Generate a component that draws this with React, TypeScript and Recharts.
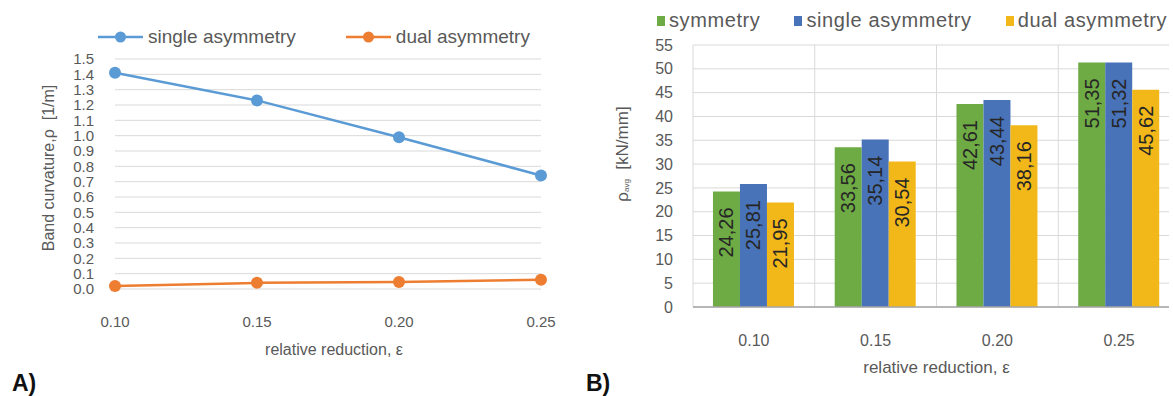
import React from 'react';
import {
  LineChart,
  Line,
  BarChart,
  Bar,
  LabelList,
  XAxis,
  YAxis,
  CartesianGrid,
  Legend,
  Label,
} from 'recharts';

const reductions = ['0.10', '0.15', '0.20', '0.25'];

// panel A: band curvature
const singleCurvature = [1.41, 1.23, 0.99, 0.74];
const dualCurvature = [0.02, 0.04, 0.045, 0.06];
const curvatureTicks = [0, 0.1, 0.2, 0.3, 0.4, 0.5, 0.6, 0.7, 0.8, 0.9, 1.0, 1.1, 1.2, 1.3, 1.4, 1.5];

// panel B: rolling force
const symmetryForce = [24.26, 33.56, 42.61, 51.35];
const singleForce = [25.81, 35.14, 43.44, 51.32];
const dualForce = [21.95, 30.54, 38.16, 45.62];
const forceTicks = [0, 5, 10, 15, 20, 25, 30, 35, 40, 45, 50, 55];

const FONT = '"Liberation Sans", Arial, Helvetica, sans-serif';
const TEXT = '#595959';
const GRID = '#d9d9d9';

const COLORS = {
  lineSingle: '#5b9bd5',
  lineDual: '#ed7d31',
  symmetry: '#6eab45',
  single: '#4873b8',
  dual: '#f2b81a',
};

const lineSeries = [
  { key: 'single', name: 'single asymmetry', color: COLORS.lineSingle },
  { key: 'dual', name: 'dual asymmetry', color: COLORS.lineDual },
];

const barSeries = [
  { key: 'symmetry', name: 'symmetry', color: COLORS.symmetry },
  { key: 'single', name: 'single asymmetry', color: COLORS.single },
  { key: 'dual', name: 'dual asymmetry', color: COLORS.dual },
];

const curvatureData = reductions.map((r, i) => ({
  eps: r,
  single: singleCurvature[i],
  dual: dualCurvature[i],
}));

const forceData = reductions.map((r, i) => ({
  eps: r,
  symmetry: symmetryForce[i],
  single: singleForce[i],
  dual: dualForce[i],
}));

// legend order kept as in the series lists (recharts 3 sorts payload by name)
const LineLegend = () => (
  <div style={{ display: 'flex', alignItems: 'center', fontFamily: FONT, fontSize: 19, color: TEXT, whiteSpace: 'nowrap' }}>
    {lineSeries.map((s) => (
      <div key={s.key} style={{ display: 'flex', alignItems: 'center', marginRight: 50 }}>
        <svg width={45} height={14} style={{ marginRight: 5 }}>
          <line x1={0} y1={7} x2={45} y2={7} stroke={s.color} strokeWidth={2.5} />
          <circle cx={22.5} cy={7} r={5.5} fill={s.color} />
        </svg>
        <span>{s.name}</span>
      </div>
    ))}
  </div>
);

const BarLegend = () => (
  <div style={{ display: 'flex', alignItems: 'center', fontFamily: FONT, fontSize: 20, letterSpacing: 0.6, color: TEXT, whiteSpace: 'nowrap' }}>
    {barSeries.map((s) => (
      <div key={s.key} style={{ display: 'flex', alignItems: 'center', marginRight: 34 }}>
        <span style={{ display: 'inline-block', width: 8, height: 10, background: s.color, marginRight: 4 }} />
        <span>{s.name}</span>
      </div>
    ))}
  </div>
);

const BarValue = (props: any) => {
  const { x, y, width, value } = props;
  const cx = x + width / 2;
  const ty = y + 16;
  return (
    <text
      x={cx}
      y={ty}
      transform={`rotate(-90, ${cx}, ${ty})`}
      textAnchor="end"
      dominantBaseline="central"
      fontFamily={FONT}
      fontSize={20}
      fill="#262626"
    >
      {Number(value).toFixed(2).replace('.', ',')}
    </text>
  );
};

const CurvatureTitle = (props: any) => {
  const { viewBox } = props;
  const cx = 48;
  const cy = viewBox.y + viewBox.height / 2 - 6;
  return (
    <text x={cx} y={cy} transform={`rotate(-90, ${cx}, ${cy})`} textAnchor="middle" dominantBaseline="central" fontFamily={FONT} fontSize={16} fill={TEXT}>
      {'Band curvature,\u03c1\u00a0\u00a0[1/m]'}
    </text>
  );
};

const ForceTitle = (props: any) => {
  const { viewBox } = props;
  const cx = 39;
  const cy = viewBox.y + viewBox.height / 2 - 22;
  return (
    <text x={cx} y={cy} transform={`rotate(-90, ${cx}, ${cy})`} textAnchor="middle" dominantBaseline="central" fontFamily={FONT} fontSize={17} fill={TEXT}>
      <tspan>{'\u03c1'}</tspan>
      <tspan fontSize={8} dy={4}>avg</tspan>
      <tspan dy={-4}>{'\u00a0\u00a0[kN/mm]'}</tspan>
    </text>
  );
};

const ReductionTitle = (props: any) => {
  const { viewBox, size, shift } = props;
  const cx = viewBox.x + viewBox.width / 2 + (shift || 0);
  const by = viewBox.y + viewBox.height - 4;
  return (
    <text x={cx} y={by} textAnchor="middle" fontFamily={FONT} fontSize={size} fill={TEXT}>
      {'relative reduction, \u03b5'}
    </text>
  );
};

export default function App() {
  return (
    <div style={{ position: 'absolute', left: 0, top: 0, width: 1173, height: 396, overflow: 'hidden', background: '#fff' }}>
      <div style={{ position: 'absolute', left: 0, top: 0 }}>
        <LineChart width={580} height={396} data={curvatureData} margin={{ top: 59, right: 39, bottom: 37, left: 25 }}>
          <CartesianGrid vertical={false} stroke={GRID} strokeWidth={1} />
          <XAxis
            dataKey="eps"
            axisLine={false}
            tickLine={false}
            tickSize={0}
            tickMargin={27}
            height={70}
            interval={0}
            tick={{ fill: TEXT, fontSize: 15, fontFamily: FONT }}
          >
            <Label content={<ReductionTitle size={16} shift={6} />} />
          </XAxis>
          <YAxis
            type="number"
            domain={[0, 1.5]}
            ticks={curvatureTicks}
            interval={0}
            width={90}
            axisLine={false}
            tickLine={false}
            tickSize={0}
            tickMargin={21}
            tickFormatter={(v: number) => v.toFixed(1)}
            tick={{ fill: TEXT, fontSize: 15, fontFamily: FONT }}
          >
            <Label content={<CurvatureTitle />} />
          </YAxis>
          <Legend
            verticalAlign="middle"
            align="center"
            layout="horizontal"
            content={<LineLegend />}
            wrapperStyle={{ top: 26, left: 98, width: 'auto' }}
          />
          {lineSeries.map((s) => (
            <Line
              key={s.key}
              dataKey={s.key}
              name={s.name}
              stroke={s.color}
              strokeWidth={2.5}
              dot={{ r: 6, fill: s.color, stroke: 'none' }}
              isAnimationActive={false}
            />
          ))}
        </LineChart>
      </div>

      <div style={{ position: 'absolute', left: 583, top: 0, width: 586, height: 396, overflow: 'hidden' }}>
        <BarChart
          width={600}
          height={396}
          data={forceData}
          margin={{ top: 45, right: 3, bottom: 19, left: 30 }}
          barCategoryGap="16.4%"
          barGap={0}
        >
          <CartesianGrid
            stroke={GRID}
            strokeWidth={1}
            verticalCoordinatesGenerator={({ offset }: any) =>
              reductions.map((_, i) => offset.left + (i * offset.width) / reductions.length).concat(offset.left + offset.width)
            }
          />
          <XAxis
            dataKey="eps"
            axisLine={{ stroke: '#a6a6a6', strokeWidth: 1.5 }}
            tickLine={false}
            tickSize={0}
            tickMargin={28}
            height={70}
            interval={0}
            tick={{ fill: TEXT, fontSize: 16, fontFamily: FONT }}
          >
            <Label content={<ReductionTitle size={17} shift={0} />} />
          </XAxis>
          <YAxis
            type="number"
            domain={[0, 55]}
            ticks={forceTicks}
            interval={0}
            width={80}
            axisLine={false}
            tickLine={false}
            tickSize={0}
            tickMargin={20}
            tick={{ fill: TEXT, fontSize: 16, fontFamily: FONT }}
          >
            <Label content={<ForceTitle />} />
          </YAxis>
          <Legend
            verticalAlign="middle"
            align="center"
            layout="horizontal"
            content={<BarLegend />}
            wrapperStyle={{ top: 9, left: 74, width: 'auto' }}
          />
          {barSeries.map((s) => (
            <Bar key={s.key} dataKey={s.key} name={s.name} fill={s.color} isAnimationActive={false}>
              <LabelList dataKey={s.key} content={<BarValue />} />
            </Bar>
          ))}
        </BarChart>
      </div>

      <div style={{ position: 'absolute', left: 12, top: 370, fontFamily: FONT, fontWeight: 'bold', fontSize: 23, color: '#111' }}>A)</div>
      <div style={{ position: 'absolute', left: 586, top: 370, fontFamily: FONT, fontWeight: 'bold', fontSize: 23, color: '#111' }}>B)</div>
    </div>
  );
}
